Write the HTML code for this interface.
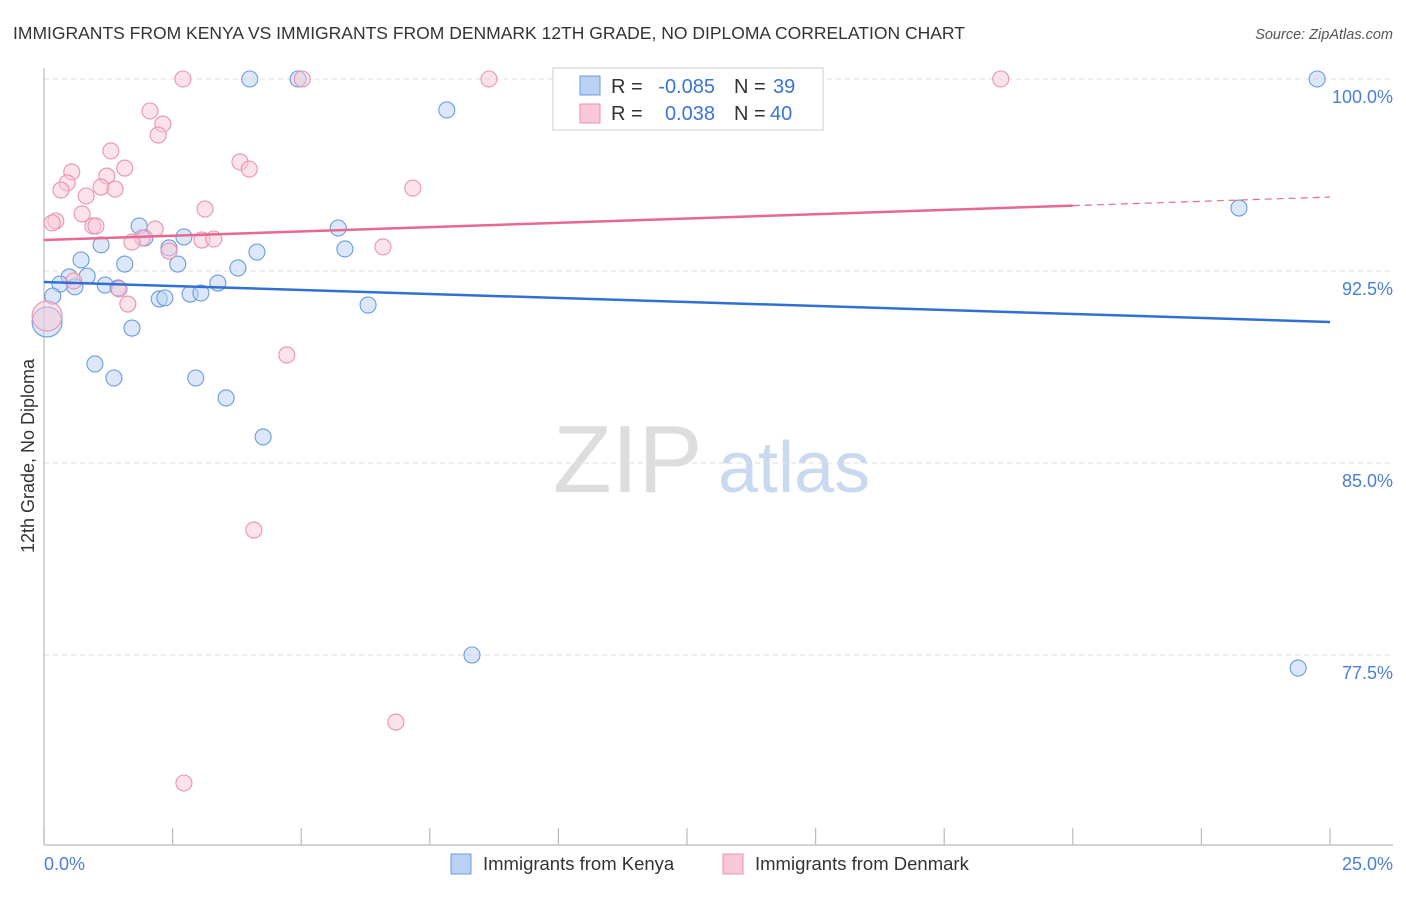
<!DOCTYPE html>
<html><head><meta charset="utf-8"><style>
body{margin:0;background:#fff;font-family:"Liberation Sans",sans-serif;}
svg text{font-family:"Liberation Sans",sans-serif;}
</style></head><body>
<svg id="chart" width="1406" height="892" xmlns="http://www.w3.org/2000/svg">
<text x="13" y="39" font-size="17.5" fill="#333">IMMIGRANTS FROM KENYA VS IMMIGRANTS FROM DENMARK 12TH GRADE, NO DIPLOMA CORRELATION CHART</text>
<text x="1393" y="39" font-size="14.5" fill="#555" text-anchor="end" font-style="italic">Source: ZipAtlas.com</text>
<g>
<text x="553" y="492" font-size="96" fill="#ddd" font-family="Liberation Serif">ZIP</text>
<text x="718" y="492" font-size="72" fill="#c9daf0">atlas</text>
</g>
<g id="grid"></g>
<line x1="44" y1="68" x2="44" y2="845" stroke="#bbb" stroke-width="1.2"/>
<line x1="44" y1="845" x2="1393" y2="845" stroke="#bbb" stroke-width="1.2"/>
<g id="xticks"></g>
<text transform="translate(34,456) rotate(-90)" font-size="18" fill="#333" text-anchor="middle">12th Grade, No Diploma</text>
<text x="44" y="870" font-size="18" fill="#4a7fd4">0.0%</text>
<text x="1393" y="870" font-size="18" fill="#4a7fd4" text-anchor="end">25.0%</text>
<g id="points"></g>
<g id="trends"></g>
<g>
<rect x="553" y="68" width="270" height="62" fill="#fff" stroke="#ccc"/>
<rect x="580" y="76" width="20" height="19" fill="#b9d1f3" stroke="#6a9be0"/>
<rect x="580" y="104" width="20" height="19" fill="#f9c7d6" stroke="#e993ae"/>
<text x="611" y="93" font-size="20" fill="#333">R =</text>
<text x="715" y="93" font-size="20" fill="#3b74d4" text-anchor="end">-0.085</text>
<text x="734" y="93" font-size="20" fill="#333">N =</text>
<text x="773" y="93" font-size="20" fill="#3b74d4">39</text>
<text x="611" y="120" font-size="20" fill="#333">R =</text>
<text x="715" y="120" font-size="20" fill="#3b74d4" text-anchor="end">0.038</text>
<text x="734" y="120" font-size="20" fill="#333">N =</text>
<text x="770" y="120" font-size="20" fill="#3b74d4">40</text>
</g>
<g>
<rect x="451" y="854" width="20" height="20" fill="#b9d1f3" stroke="#6a9be0"/>
<text x="483" y="870" font-size="18.5" fill="#333">Immigrants from Kenya</text>
<rect x="723" y="854" width="20" height="20" fill="#f9c7d6" stroke="#e993ae"/>
<text x="755" y="870" font-size="18.5" fill="#333">Immigrants from Denmark</text>
</g>
</svg>
<script>
const yTicks=[100,92.5,85,77.5];
const yTickLabels=["100.0%","92.5%","85.0%","77.5%"];
const xTicks=[0,2.5,5,7.5,10,12.5,15,17.5,20,22.5,25];
const kenyaX=[4.00,4.94,24.75,7.83,23.23,1.85,5.72,1.96,2.72,1.11,2.43,5.85,4.14,0.72,1.57,2.60,3.77,0.49,0.84,1.19,3.38,0.31,0.60,0.17,2.24,2.35,2.84,3.05,6.30,1.71,0.06,0.99,1.36,2.95,3.54,4.26,8.32,24.38,1.44];
const kenyaY=[100,100,100,98.79,94.96,94.26,94.18,93.79,93.83,93.52,93.40,93.36,93.24,92.93,92.77,92.77,92.62,92.27,92.30,91.95,92.03,91.99,91.88,91.52,91.41,91.45,91.60,91.64,91.17,90.27,90.51,88.87,88.32,88.32,87.54,86.02,77.50,76.99,91.84];
const kenyaBig=[30];
const denmarkX=[2.70,5.02,8.65,18.60,2.06,2.31,2.22,1.30,3.81,0.54,3.99,1.57,1.22,0.45,0.33,1.11,1.38,7.17,0.82,3.13,0.74,0.23,0.16,0.95,2.16,1.91,1.71,2.43,3.07,3.30,6.59,0.58,1.46,1.63,0.06,4.72,4.08,6.84,2.72,1.01];
const denmarkY=[100,100,100,100,98.75,98.24,97.81,97.19,96.76,96.37,96.48,96.52,96.21,95.94,95.66,95.78,95.70,95.74,95.43,94.92,94.73,94.45,94.38,94.26,94.14,93.79,93.63,93.28,93.71,93.75,93.44,92.11,91.80,91.21,90.74,89.22,82.38,74.88,72.50,94.26];
const denmarkBig=[34];
const kenyaTrend=[92.07,90.51];
const denmarkTrend=[93.71,95.39];
const denmarkSolidEnd=20;
const NS="http://www.w3.org/2000/svg";
const sx=v=>44+v/25*1286;
const sy=v=>79+(100-v)/7.5*192;
function mk(tag,attrs,parent){const e=document.createElementNS(NS,tag);for(const k in attrs)e.setAttribute(k,attrs[k]);parent.appendChild(e);return e;}
const grid=document.getElementById('grid');
yTicks.forEach((t,i)=>{
 const l=mk('line',{x1:44,x2:1393,y1:sy(t),y2:sy(t),stroke:'#ddd','stroke-dasharray':'5,4'},grid);
 
 
 const tx=mk('text',{x:1393,y:sy(t)+24,'font-size':18,fill:'#4a7fd4','text-anchor':'end'},grid);
 tx.textContent=yTickLabels[i];
 
 
});
const xt=document.getElementById('xticks');
xTicks.forEach(t=>{
 const l=mk('line',{x1:sx(t),x2:sx(t),y1:828,y2:845,stroke:'#bbb','stroke-width':1.2},xt);
 
 
});
const pts=document.getElementById('points');
function drawSeries(xs,ys,big,fill,stroke,name){
 xs.forEach((x,i)=>{
  const c=mk('circle',{cx:sx(x),cy:sy(ys[i]),r:big.includes(i)?15:8,fill:fill,'fill-opacity':0.5,stroke:stroke,'stroke-width':1.1},pts);
  
  
 });
}
drawSeries(kenyaX,kenyaY,kenyaBig,'#b9d1f3','#6a9be0','kenya-point');
drawSeries(denmarkX,denmarkY,denmarkBig,'#f9c7d6','#e993ae','denmark-point');
const tr=document.getElementById('trends');
const kl=mk('line',{x1:sx(0),y1:sy(kenyaTrend[0]),x2:sx(25),y2:sy(kenyaTrend[1]),stroke:'#2f6fd6','stroke-width':2.5},tr);


const dAt=x=>denmarkTrend[0]+(denmarkTrend[1]-denmarkTrend[0])*x/25;
const dl=mk('line',{x1:sx(0),y1:sy(dAt(0)),x2:sx(denmarkSolidEnd),y2:sy(dAt(denmarkSolidEnd)),stroke:'#e8698f','stroke-width':2.5},tr);


const dd=mk('line',{x1:sx(denmarkSolidEnd),y1:sy(dAt(denmarkSolidEnd)),x2:sx(25),y2:sy(dAt(25)),stroke:'#e8698f','stroke-width':1.2,'stroke-dasharray':'7,5'},tr);


</script>
</body></html>
